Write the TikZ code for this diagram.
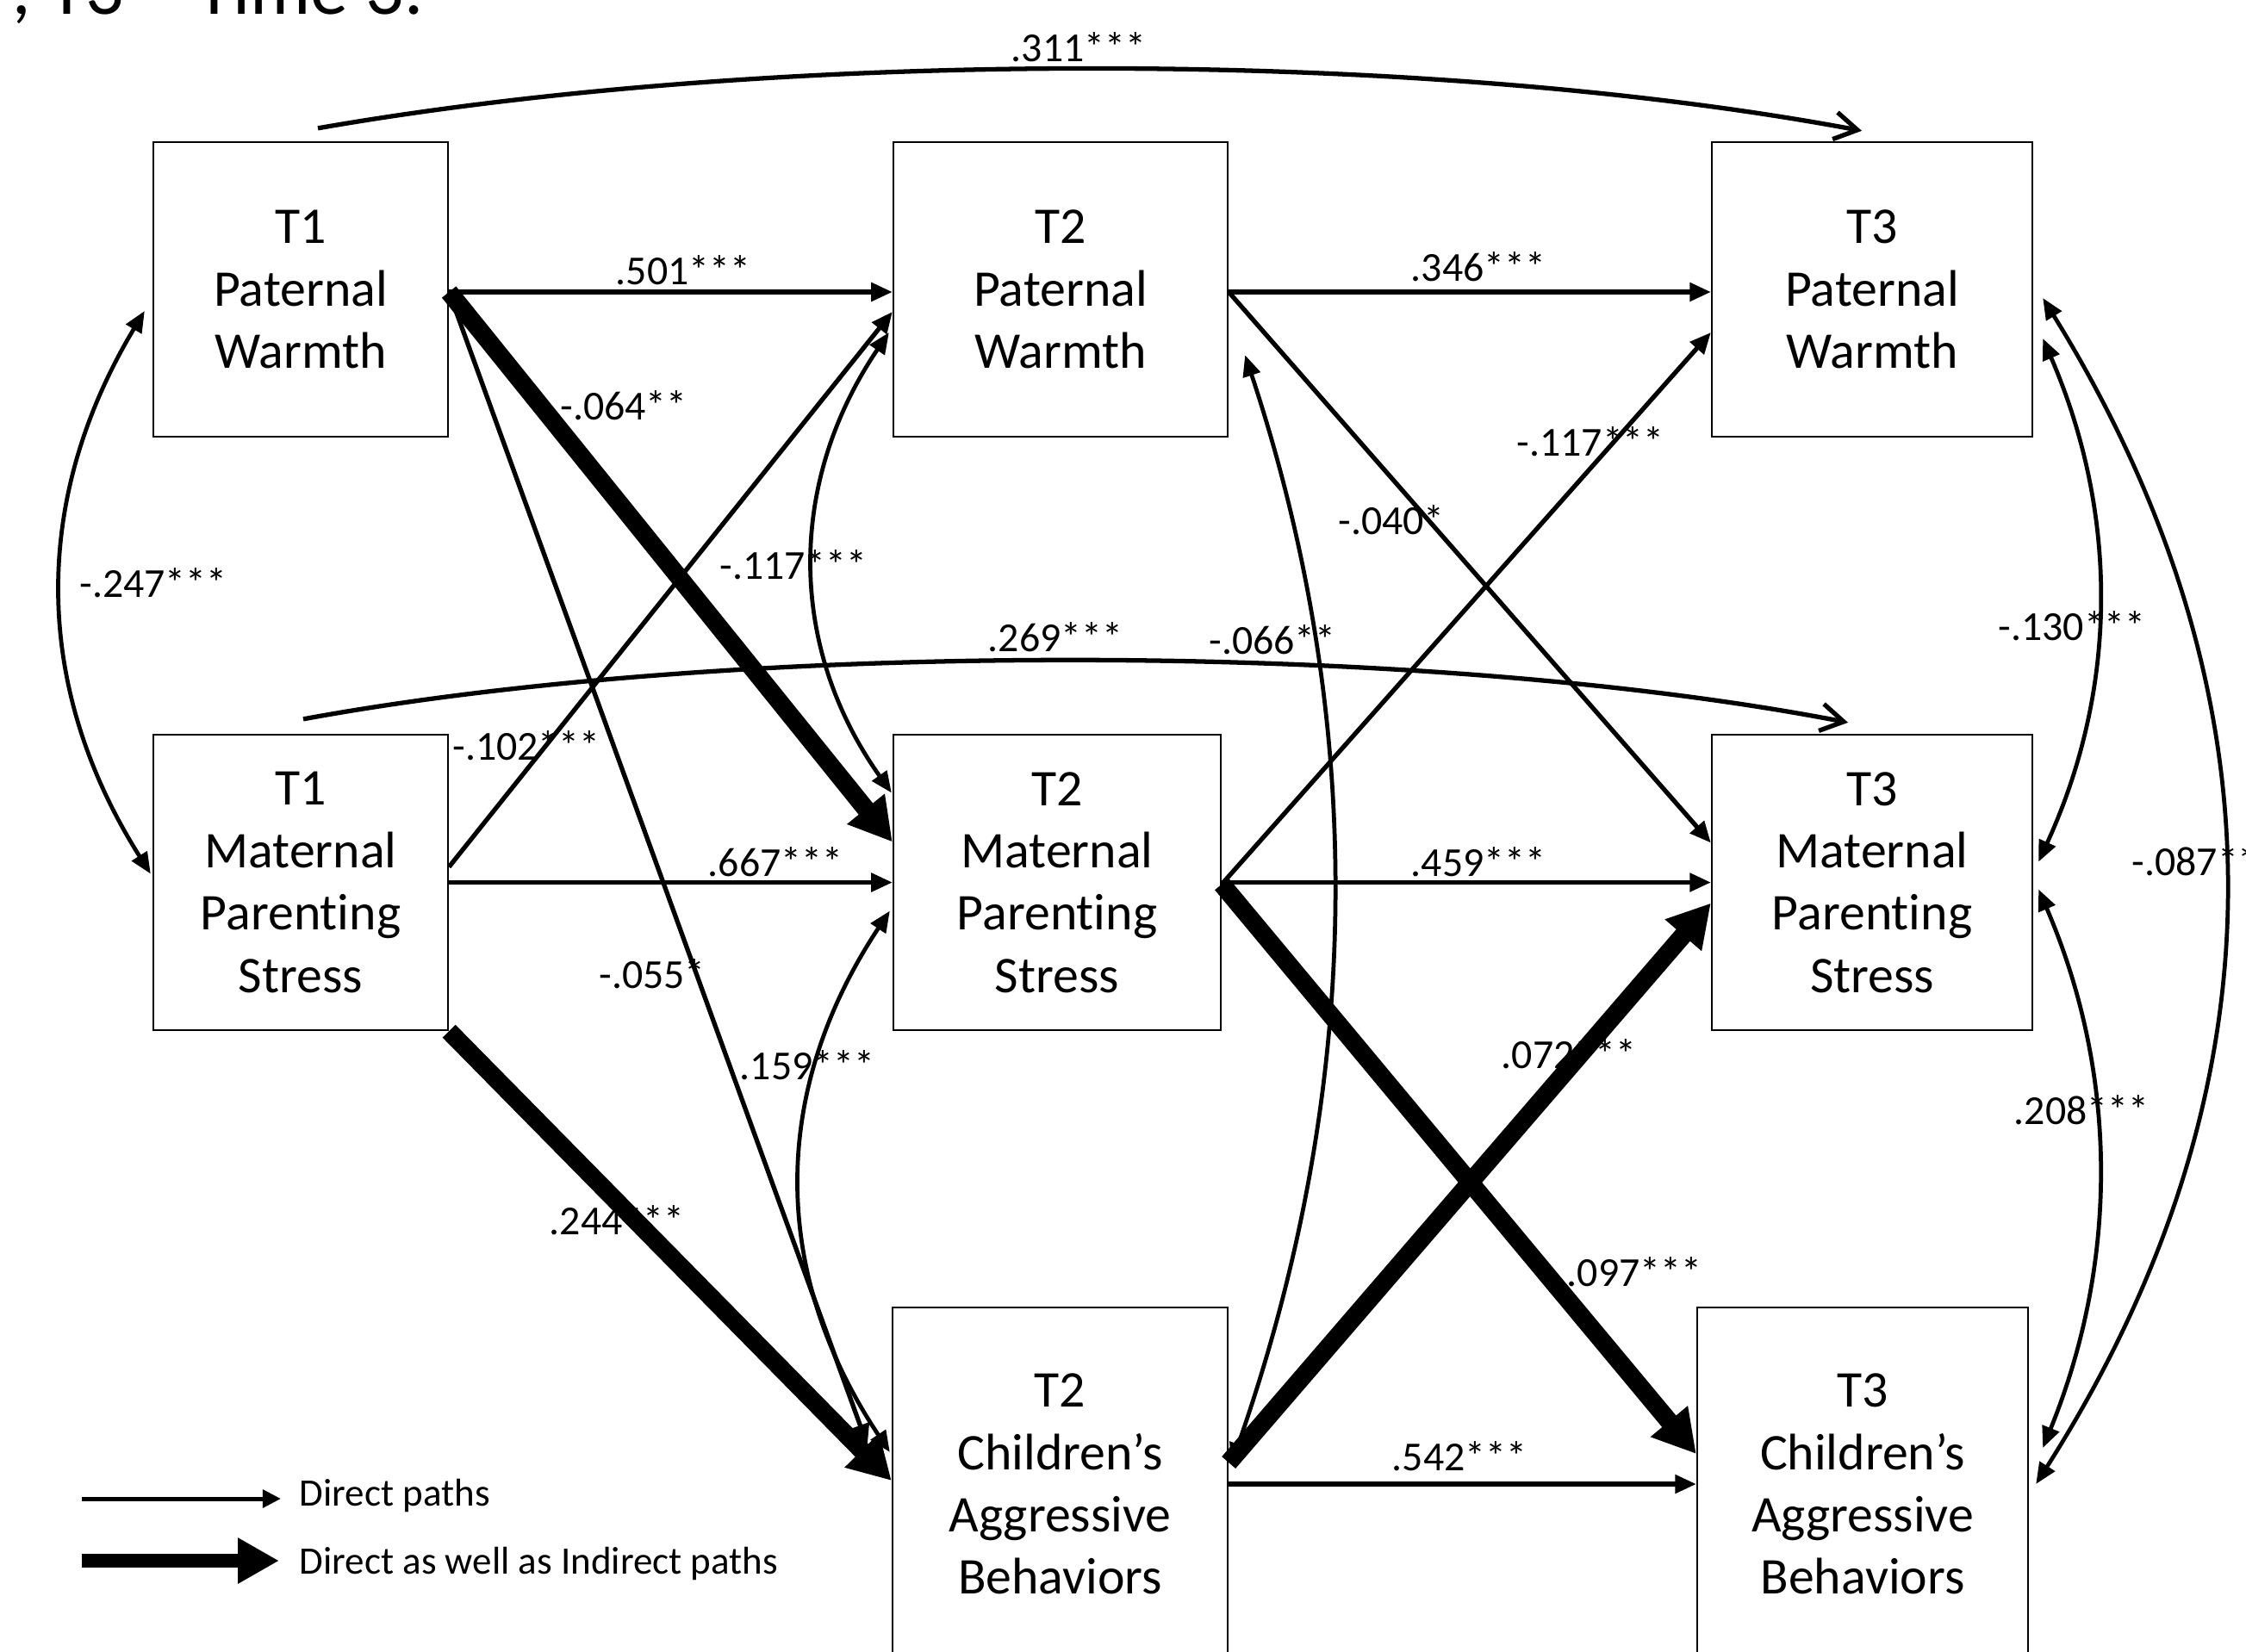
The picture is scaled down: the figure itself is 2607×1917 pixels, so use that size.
\documentclass[tikz,border=0pt]{standalone}
\usepackage{fontspec}
\setmainfont{Carlito}[RawFeature={-liga}]
\usetikzlibrary{arrows.meta,calc}
\newcommand\myboxfont{\fontsize{17}{20.6}\selectfont}
\newcommand\mylblfont{\fontsize{13.6}{16}\selectfont}
\newcommand\mylegfont{\fontsize{12.8}{15}\selectfont}
\newcommand\mytopfont{\fontsize{25}{30}\selectfont}
\begin{document}
\begin{tikzpicture}[x=0.01cm,y=-0.01cm,
  varbox/.style={draw,line width=0.6pt,align=center,inner sep=0pt,font=\myboxfont},
  lbl/.style={anchor=base,inner sep=0pt,font=\mylblfont},
  paththin/.style={line width=1.5pt,-{Triangle[length=7pt,width=6pt]}},
  paththick/.style={line width=6pt,-{Triangle[length=14pt,width=15pt]}},
  covar/.style={line width=1.35pt,{Triangle[length=7pt,width=5.8pt]}-{Triangle[length=7pt,width=5.8pt]}},
  longarrow/.style={line width=1.5pt,-{Straight Barb[length=7.5pt,width=9pt]}}]
\useasboundingbox (0,0) rectangle (2607,1917);
\clip (0,0) rectangle (2607,1917);

% top caption (cut off)
\node[anchor=base east,inner sep=0pt,font=\mytopfont] (cap) at (492,16) {; T3 = Time 3.};

% boxes
\node[varbox,minimum width=3.42cm,minimum height=3.42cm] (T1PW) at (349,336) {T1\\Paternal\\Warmth};
\node[varbox,minimum width=3.88cm,minimum height=3.42cm] (T2PW) at (1231,336) {T2\\Paternal\\Warmth};
\node[varbox,minimum width=3.72cm,minimum height=3.42cm] (T3PW) at (2173,336) {T3\\Paternal\\Warmth};
\node[varbox,minimum width=3.42cm,minimum height=3.43cm] (T1MPS) at (349,1024.5) {T1\\Maternal\\Parenting\\Stress};
\node[varbox,minimum width=3.80cm,minimum height=3.43cm] (T2MPS) at (1227,1024.5) {T2\\Maternal\\Parenting\\Stress};
\node[varbox,minimum width=3.72cm,minimum height=3.43cm] (T3MPS) at (2173,1024.5) {T3\\Maternal\\Parenting\\Stress};
\node[varbox,minimum width=3.89cm,minimum height=4.10cm] (T2CAB) at (1230.5,1723) {T2\\Children’s\\Aggressive\\Behaviors};
\node[varbox,minimum width=3.84cm,minimum height=4.10cm] (T3CAB) at (2162,1723) {T3\\Children’s\\Aggressive\\Behaviors};

% end points
\coordinate (pwA) at ($(T1PW.east)+(0,3)$);
\coordinate (pwB) at ($(T2PW.west)+(0,3)$);
\coordinate (mpB64) at ($(T2MPS.west)+(0,-47)$);
\coordinate (cab55) at ($(T2CAB.west)+(-28,-45)$);
\coordinate (mpA102) at ($(T1MPS.east)+(0,-18)$);
\coordinate (pwB102) at ($(T2PW.west)+(0,26)$);
\coordinate (cab244) at ($(T2CAB.west)+(0,-4)$);
\coordinate (pwBe) at ($(T2PW.east)+(0,3)$);
\coordinate (pwC) at ($(T3PW.west)+(0,3)$);
\coordinate (mpC40) at ($(T3MPS.west)+(0,-46)$);
\coordinate (mpBe) at ($(T2MPS.east)+(0,2)$);
\coordinate (pwC117) at ($(T3PW.west)+(0,50)$);
\coordinate (cabC97) at ($(T3CAB.west)+(0,-35)$);
\coordinate (cabB72) at ($(T2CAB.east)+(0,-25)$);
\coordinate (mpC72) at ($(T3MPS.west)+(0,24)$);

% direct paths
\draw[paththin] (pwA) -- (pwB);
\draw[paththick] (pwA) -- (mpB64);
\draw[paththin] (pwA) -- (cab55);
\draw[paththin] (mpA102) -- (pwB102);
\draw[paththin] (T1MPS.east) -- (T2MPS.west);
\draw[paththick] (T1MPS.south east) -- (cab244);
\draw[paththin] (pwBe) -- (pwC);
\draw[paththin] (pwBe) -- (mpC40);
\draw[paththin] (mpBe) -- (pwC117);
\draw[paththin] (T2MPS.east) -- (T3MPS.west);
\draw[paththick] (mpBe) -- (cabC97);
\draw[paththick] (cabB72) -- (mpC72);
\draw[paththin] (T2CAB.east) -- (T3CAB.west);

% long paths
\coordinate (l311a) at ($(T1PW.north)+(20,-15)$);
\coordinate (l311b) at ($(T3PW.north)+(-12,-12)$);
\draw[longarrow] (l311a) .. controls (900,56) and (1650,56) .. (l311b);
\coordinate (l269a) at ($(T1MPS.north)+(3,-17)$);
\coordinate (l269b) at ($(T3MPS.north)+(-28,-13)$);
\draw[longarrow] (l269a) .. controls (850,743) and (1650,743) .. (l269b);

% covariances
\coordinate (c247a) at ($(T1PW.west)+(-9,25)$);
\coordinate (c247b) at ($(T1MPS.west)+(-2,-10)$);
\draw[covar] (c247a) .. controls (37,579) and (37,796) .. (c247b);
\coordinate (c117a) at ($(T2PW.west)+(-4,50)$);
\coordinate (c117b) at ($(T2MPS.west)+(-1,-104)$);
\draw[covar] (c117a) .. controls (914,560) and (914,750) .. (c117b);
\coordinate (c159a) at ($(T2MPS.west)+(-3,33)$);
\coordinate (c159b) at ($(T2CAB.west)+(-2,-37)$);
\draw[covar] (c159a) .. controls (894,1267) and (894,1477) .. (c159b);
\coordinate (c066a) at ($(T2PW.south east)+(19,-96)$);
\coordinate (c066b) at ($(T2CAB.east)+(3,-23)$);
\draw[covar] (c066a) .. controls (1590,850) and (1580,1270) .. (c066b);
\coordinate (c130a) at ($(T3PW.east)+(11,57)$);
\coordinate (c130b) at ($(T3MPS.east)+(6,-24)$);
\draw[covar] (c130a) .. controls (2459,596) and (2459,798) .. (c130b);
\coordinate (c087a) at ($(T3PW.east)+(11,10)$);
\coordinate (c087b) at ($(T3CAB.east)+(8,0)$);
\draw[covar] (c087a) .. controls (2655,805) and (2655,1264) .. (c087b);
\coordinate (c208a) at ($(T3MPS.east)+(6,8)$);
\coordinate (c208b) at ($(T3CAB.east)+(16,-42)$);
\draw[covar] (c208a) .. controls (2459,1248) and (2459,1465) .. (c208b);

% labels
\node[lbl] (v311) at (1252,71) {.311***};
\node[lbl] (v501) at (793,330) {.501***};
\node[lbl] (v064) at (724,487) {-.064**};
\node[lbl] (v117a) at (921,672) {-.117***};
\node[lbl] (v102) at (611,882) {-.102***};
\node[lbl] (v269) at (1225,756) {.269***};
\node[lbl] (v247) at (178,693) {-.247***};
\node[lbl] (v667) at (900,1017) {.667***};
\node[lbl] (v055) at (757,1147) {-.055*};
\node[lbl] (v159) at (937,1253) {.159***};
\node[lbl] (v244) at (716,1433) {.244***};
\node[lbl] (v346) at (1716,326) {.346***};
\node[lbl] (v040) at (1615,620) {-.040*};
\node[lbl] (v117b) at (1846,529) {-.117***};
\node[lbl] (v066) at (1477,759) {-.066**};
\node[lbl] (v459) at (1716,1017) {.459***};
\node[lbl] (v072) at (1821,1240) {.072***};
\node[lbl] (v097) at (1897,1493) {.097***};
\node[lbl] (v542) at (1694,1707) {.542***};
\node[lbl] (v130) at (2405,743) {-.130***};
\node[lbl] (v208) at (2416,1305) {.208***};
\node[lbl,anchor=base west] (v087) at (2474,1016) {-.087**};

% legend
\coordinate (L1s) at (95,1740);
\coordinate (L1e) at (326,1740);
\coordinate (L2s) at (95,1812);
\coordinate (L2e) at (324,1812);
\draw[line width=1.4pt,-{Triangle[length=6pt,width=5.8pt]}] (L1s) -- (L1e);
\draw[line width=4.5pt,-{Triangle[length=13.6pt,width=14.2pt]}] (L2s) -- (L2e);
\node[anchor=base west,inner sep=0pt,font=\mylegfont] (leg1) at (347,1748) {Direct paths};
\node[anchor=base west,inner sep=0pt,font=\mylegfont] (leg2) at (347,1827) {Direct as well as Indirect paths};
\end{tikzpicture}
\end{document}
